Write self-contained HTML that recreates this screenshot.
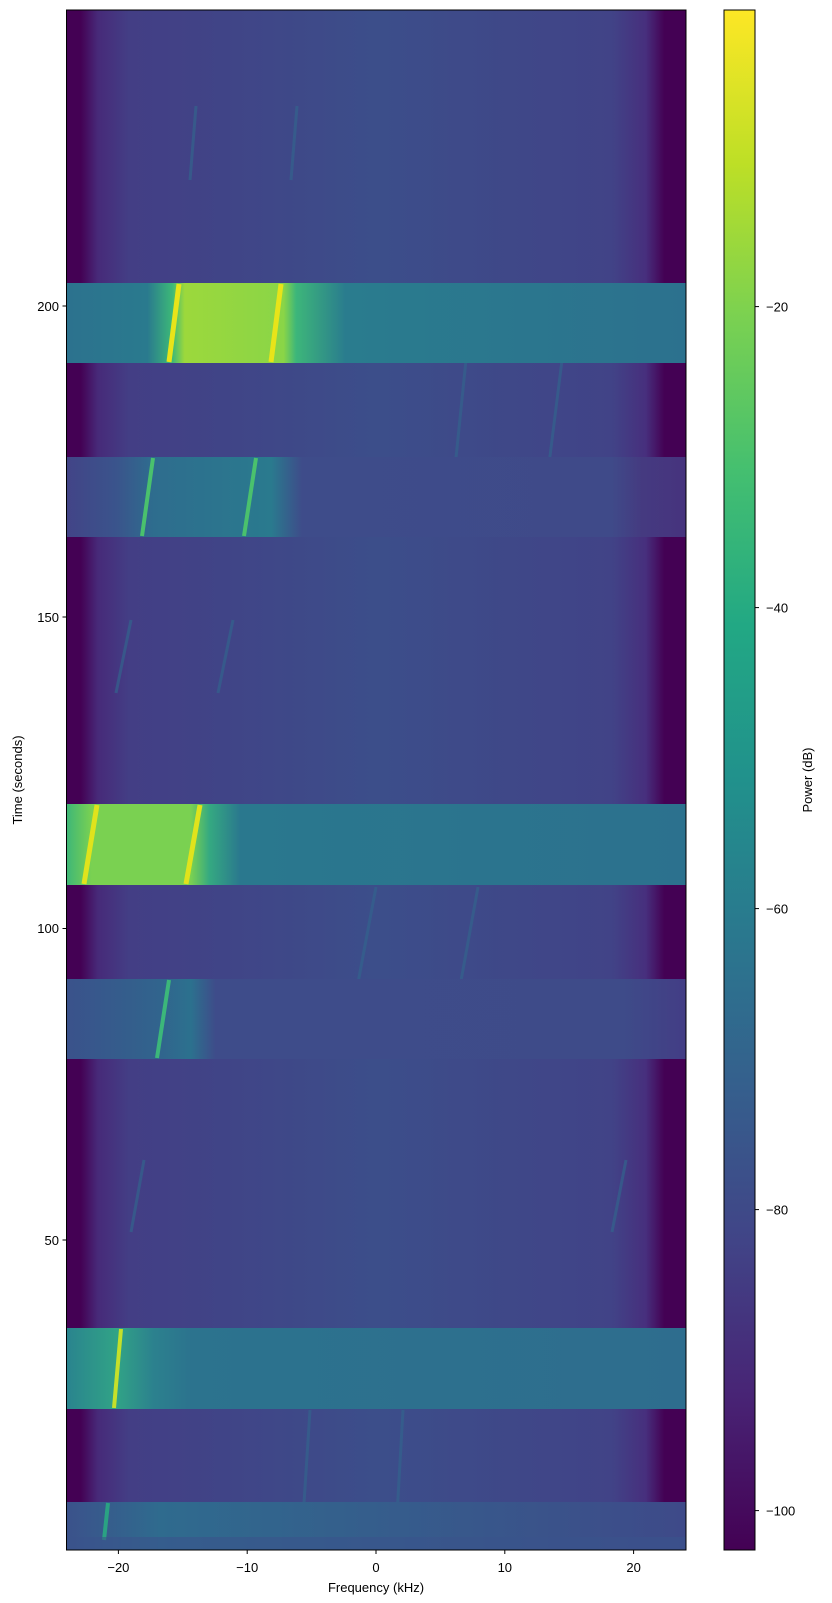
<!DOCTYPE html>
<html><head><meta charset="utf-8"><style>body{margin:0;background:#fff}svg{display:block}text{font-family:"Liberation Sans","DejaVu Sans",sans-serif;font-size:13px;fill:#000}</style></head>
<body>
<svg width="832" height="1603" viewBox="0 0 832 1603" xmlns="http://www.w3.org/2000/svg">
<defs>
<linearGradient id="edge" x1="0" x2="1" y1="0" y2="0">
<stop offset="0" stop-color="#440154"/><stop offset="0.022" stop-color="#440154"/><stop offset="0.05" stop-color="#472a79"/><stop offset="0.1" stop-color="#433e85"/><stop offset="0.5" stop-color="#3c4e8a"/><stop offset="0.88" stop-color="#414387"/><stop offset="0.935" stop-color="#472f7d"/><stop offset="0.965" stop-color="#440154"/><stop offset="1" stop-color="#440154"/>
</linearGradient>
<linearGradient id="vir" x1="0" x2="0" y1="1" y2="0">
<stop offset="0" stop-color="#440154"/><stop offset="0.1" stop-color="#482475"/><stop offset="0.2" stop-color="#414487"/><stop offset="0.3" stop-color="#355f8d"/><stop offset="0.4" stop-color="#2a788e"/><stop offset="0.5" stop-color="#21918c"/><stop offset="0.6" stop-color="#22a884"/><stop offset="0.7" stop-color="#44bf70"/><stop offset="0.8" stop-color="#7ad151"/><stop offset="0.9" stop-color="#bddf26"/><stop offset="1" stop-color="#fde725"/>
</linearGradient>
<linearGradient id="b1" x1="0" x2="1"><stop offset="0" stop-color="#2c728e"/><stop offset="0.13" stop-color="#2a7a8e"/><stop offset="0.17" stop-color="#3cb878"/><stop offset="0.19" stop-color="#9cd83c"/><stop offset="0.35" stop-color="#8ad547"/><stop offset="0.37" stop-color="#3db67a"/><stop offset="0.45" stop-color="#2a7c8e"/><stop offset="1" stop-color="#2c718e"/></linearGradient>
<linearGradient id="b3" x1="0" x2="1"><stop offset="0" stop-color="#3fb777"/><stop offset="0.04" stop-color="#7ad151"/><stop offset="0.2" stop-color="#7ad151"/><stop offset="0.23" stop-color="#35a981"/><stop offset="0.28" stop-color="#2a788e"/><stop offset="1" stop-color="#2c718e"/></linearGradient>
<linearGradient id="b2" x1="0" x2="1"><stop offset="0" stop-color="#424487"/><stop offset="0.08" stop-color="#3a548c"/><stop offset="0.14" stop-color="#2e6d8e"/><stop offset="0.33" stop-color="#2a7a8e"/><stop offset="0.38" stop-color="#3e4c8a"/><stop offset="0.88" stop-color="#3f4a89"/><stop offset="0.93" stop-color="#453a80"/><stop offset="1" stop-color="#46337e"/></linearGradient>
<linearGradient id="b4" x1="0" x2="1"><stop offset="0" stop-color="#3a528b"/><stop offset="0.15" stop-color="#31648d"/><stop offset="0.2" stop-color="#2c718e"/><stop offset="0.24" stop-color="#3e4c8a"/><stop offset="0.9" stop-color="#3e4b89"/><stop offset="1" stop-color="#433d85"/></linearGradient>
<linearGradient id="b5" x1="0" x2="1"><stop offset="0" stop-color="#2a848e"/><stop offset="0.08" stop-color="#31a386"/><stop offset="0.14" stop-color="#2c818e"/><stop offset="0.2" stop-color="#2c738e"/><stop offset="1" stop-color="#2e6d8e"/></linearGradient>
<linearGradient id="b6" x1="0" x2="1"><stop offset="0" stop-color="#3b528b"/><stop offset="0.15" stop-color="#2f6b8e"/><stop offset="1" stop-color="#3e4a89"/></linearGradient>
</defs>
<rect x="67" y="10" width="619" height="1540" fill="url(#edge)"/>
<g stroke="#33638d" stroke-width="3" opacity="0.7">
<line x1="190" y1="180" x2="196" y2="106"/><line x1="291" y1="180" x2="297" y2="106"/>
<line x1="116" y1="693" x2="131" y2="620"/><line x1="218" y1="693" x2="233" y2="620"/>
<line x1="131" y1="1232" x2="144" y2="1160"/><line x1="612" y1="1232" x2="626" y2="1160"/>
<line x1="448" y1="536" x2="466" y2="360"/><line x1="540" y1="536" x2="562" y2="360"/>
<line x1="348" y1="1036" x2="376" y2="887"/><line x1="451" y1="1036" x2="478" y2="887"/>
<line x1="301" y1="1550" x2="310" y2="1410"/><line x1="395" y1="1550" x2="403" y2="1410"/>
</g>
<rect x="67" y="283" width="619" height="80" fill="url(#b1)"/>
<g stroke="#e8e419" stroke-width="5"><line x1="169" y1="362" x2="179" y2="284"/><line x1="271" y1="362" x2="281" y2="284"/></g>
<rect x="67" y="457" width="619" height="80" fill="url(#b2)"/>
<g stroke="#4ac16d" stroke-width="4"><line x1="142" y1="536" x2="153" y2="458"/><line x1="244" y1="536" x2="256" y2="458"/></g>
<rect x="67" y="804" width="619" height="81" fill="url(#b3)"/>
<g stroke="#e0e31c" stroke-width="5"><line x1="84" y1="884" x2="97" y2="805"/><line x1="186" y1="884" x2="200" y2="805"/></g>
<rect x="67" y="979" width="619" height="80" fill="url(#b4)"/>
<g stroke="#3cb77a" stroke-width="4"><line x1="157" y1="1058" x2="169" y2="980"/></g>
<rect x="67" y="1328" width="619" height="81" fill="url(#b5)"/>
<g stroke="#c4e02a" stroke-width="4"><line x1="114" y1="1408" x2="121" y2="1329"/></g>
<rect x="67" y="1502" width="619" height="48" fill="url(#b6)"/>
<g stroke="#2aa283" stroke-width="4"><line x1="104" y1="1540" x2="108" y2="1503"/></g>
<rect x="67" y="1537" width="619" height="13" fill="#3a548c" opacity="0.6"/>
<rect x="66.5" y="10" width="619.5" height="1540" fill="none" stroke="#000" stroke-width="1"/>
<g stroke="#000"><line x1="118.4" y1="1550" x2="118.4" y2="1554"/><line x1="247.2" y1="1550" x2="247.2" y2="1554"/><line x1="376" y1="1550" x2="376" y2="1554"/><line x1="504.8" y1="1550" x2="504.8" y2="1554"/><line x1="633.6" y1="1550" x2="633.6" y2="1554"/></g>
<g text-anchor="middle"><text x="118.4" y="1572">−20</text><text x="247.2" y="1572">−10</text><text x="376" y="1572">0</text><text x="504.8" y="1572">10</text><text x="633.6" y="1572">20</text>
<text x="376" y="1592">Frequency (kHz)</text></g>
<g stroke="#000"><line x1="62.5" y1="306" x2="66.5" y2="306"/><line x1="62.5" y1="617" x2="66.5" y2="617"/><line x1="62.5" y1="928.5" x2="66.5" y2="928.5"/><line x1="62.5" y1="1240" x2="66.5" y2="1240"/></g>
<g text-anchor="end"><text x="59" y="311">200</text><text x="59" y="622">150</text><text x="59" y="933">100</text><text x="59" y="1245">50</text></g>
<text transform="translate(22,780) rotate(-90)" text-anchor="middle">Time (seconds)</text>
<rect x="724" y="10" width="31" height="1540" fill="url(#vir)" stroke="#000" stroke-width="1"/>
<g stroke="#000"><line x1="755" y1="306.6" x2="759" y2="306.6"/><line x1="755" y1="607.6" x2="759" y2="607.6"/><line x1="755" y1="908.6" x2="759" y2="908.6"/><line x1="755" y1="1209.6" x2="759" y2="1209.6"/><line x1="755" y1="1510.6" x2="759" y2="1510.6"/></g>
<g><text x="766" y="311.6">−20</text><text x="766" y="612.6">−40</text><text x="766" y="913.6">−60</text><text x="766" y="1214.6">−80</text><text x="766" y="1515.6">−100</text></g>
<text transform="translate(812,780) rotate(-90)" text-anchor="middle">Power (dB)</text>
</svg>
</body></html>
